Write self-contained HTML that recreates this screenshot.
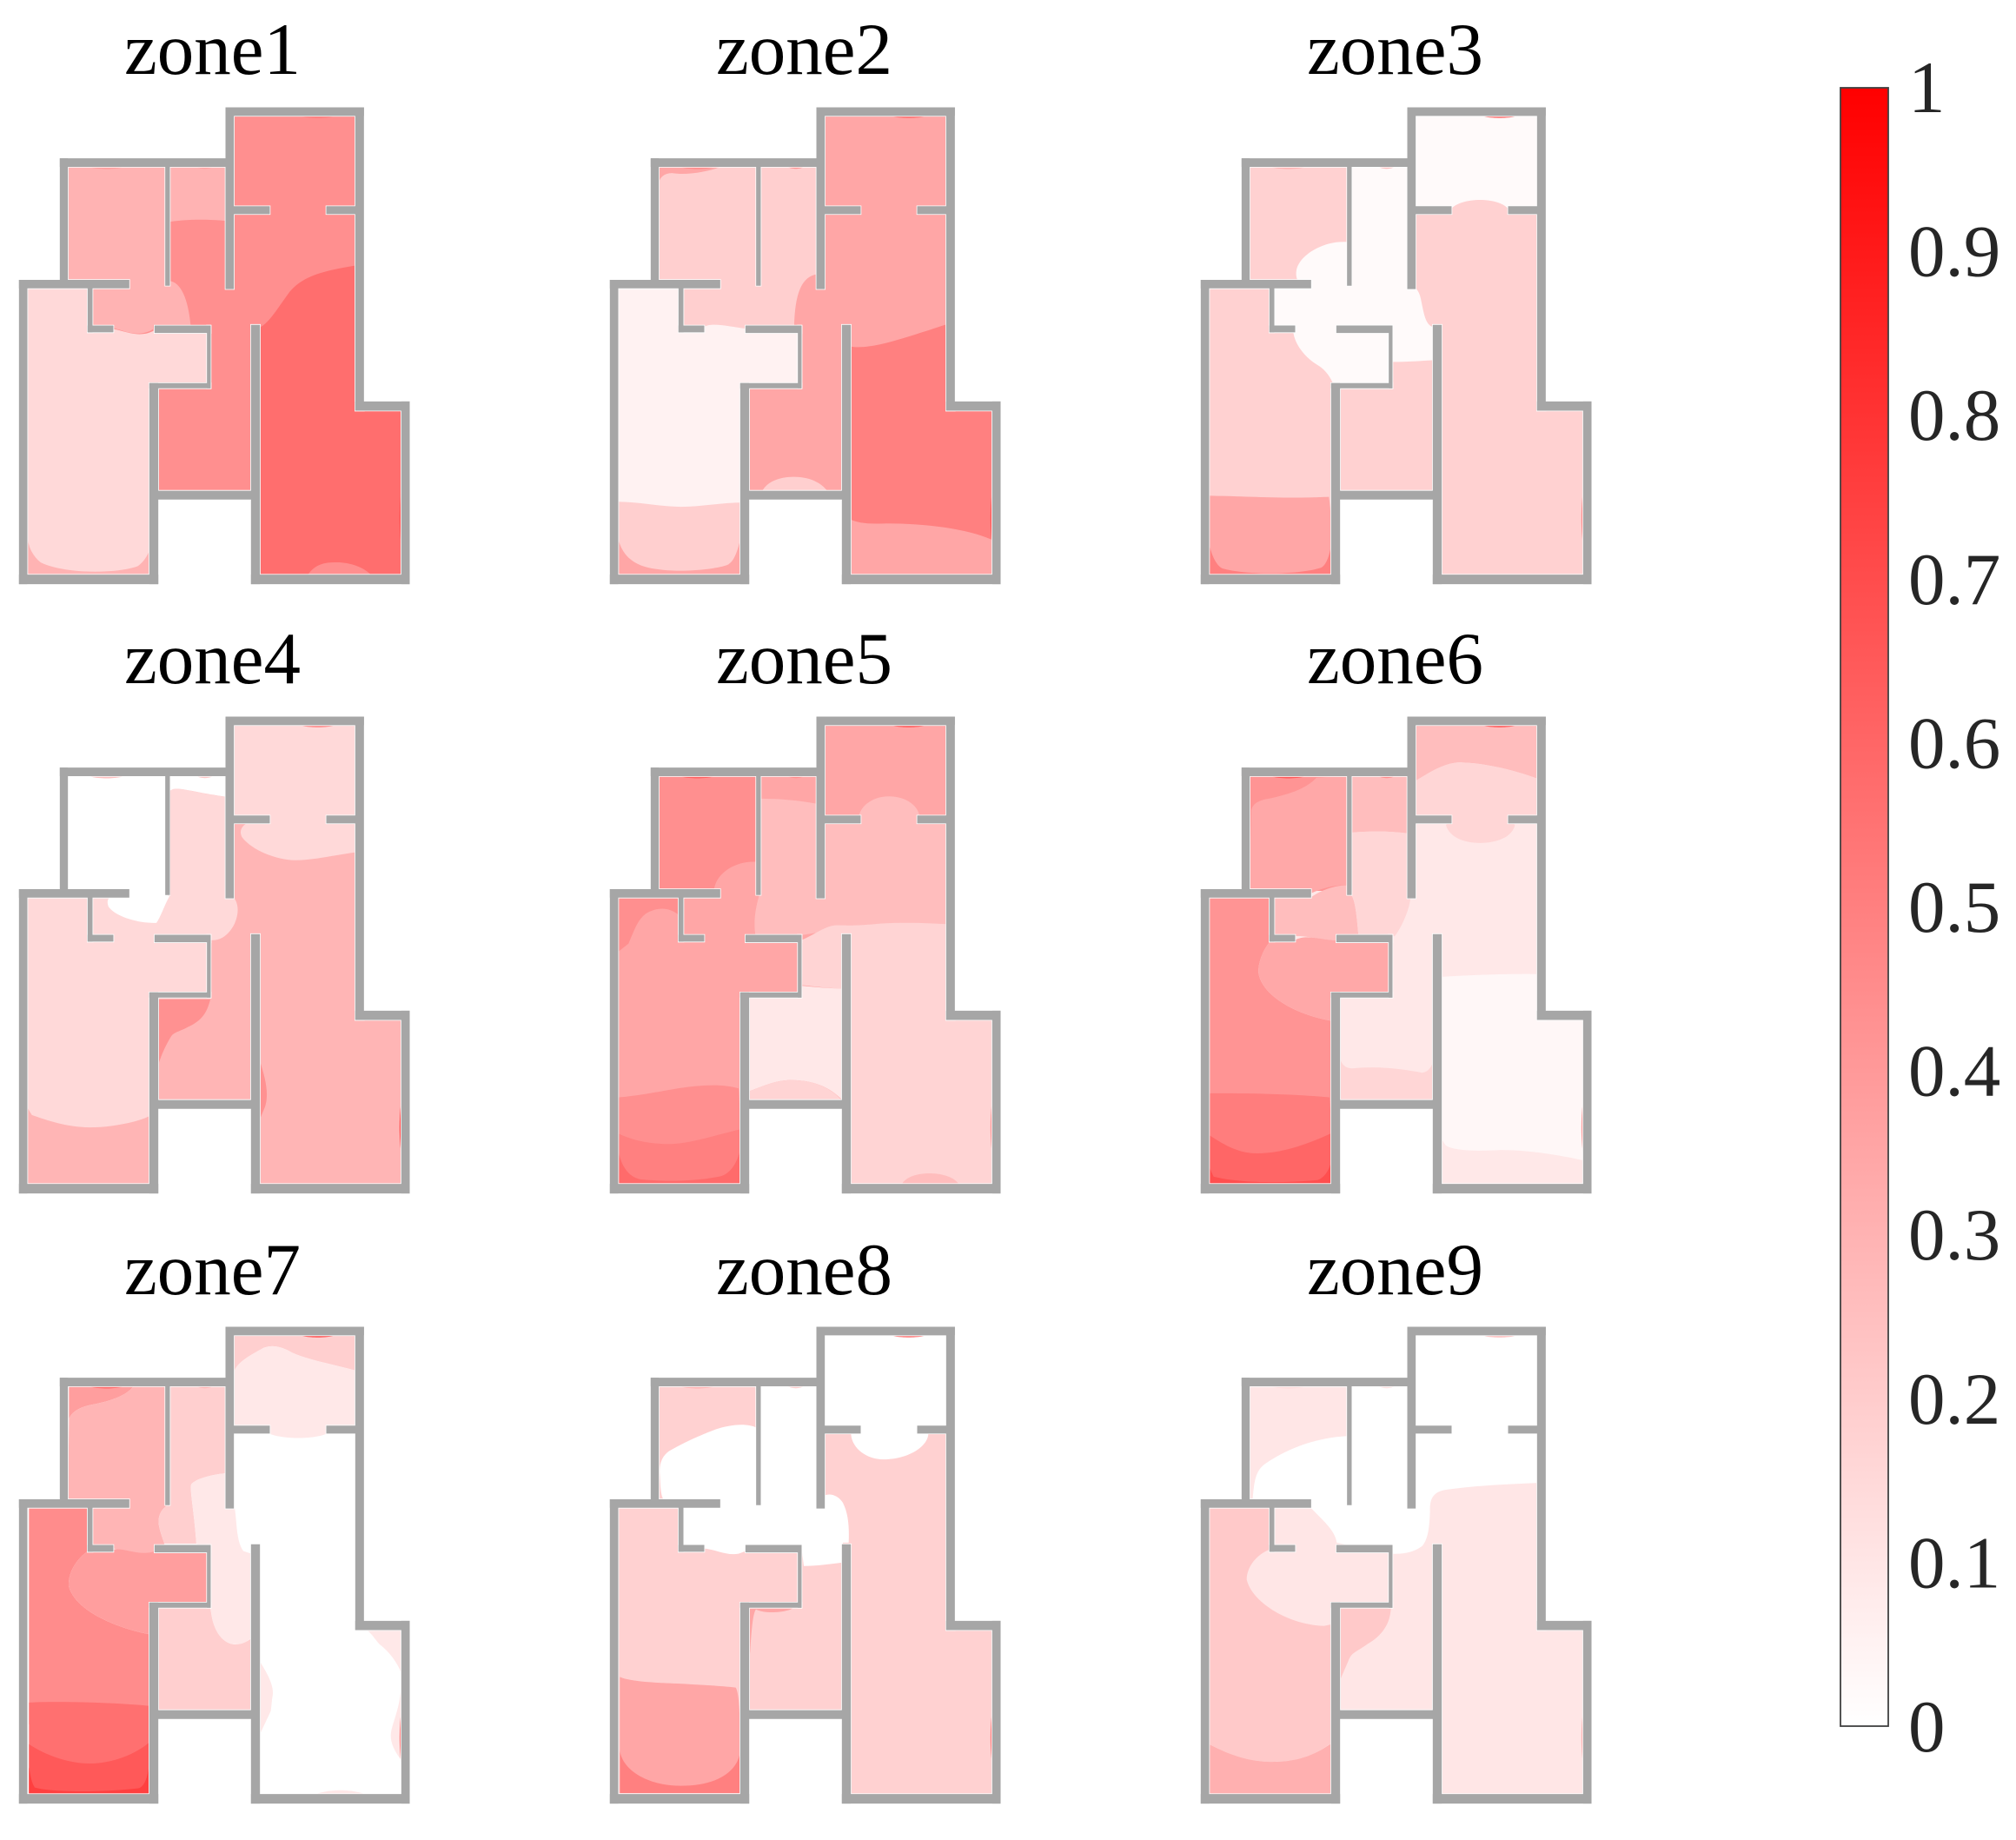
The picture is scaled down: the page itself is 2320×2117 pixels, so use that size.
<!DOCTYPE html>
<html lang="en">
<head>
<meta charset="utf-8">
<title>Zone contour maps</title>
<style>
html,body{margin:0;padding:0;background:#fff;}
body{width:2320px;height:2117px;overflow:hidden;}
svg{display:block;}
text{font-family:"Liberation Serif",serif;}
</style>
</head>
<body>
<svg id="chart" xmlns="http://www.w3.org/2000/svg" width="2320" height="2117" viewBox="0 0 2320 2117">
<defs>
<linearGradient id="bar-gradient" x1="0" y1="1" x2="0" y2="0">
<stop offset="0" stop-color="#ffffff"/>
<stop offset="1" stop-color="#ff0000"/>
</linearGradient>
</defs>
</svg>
<script>
// ---------- data ----------
const zoneNames = ['zone1','zone2','zone3','zone4','zone5','zone6','zone7','zone8','zone9'];
const colorbarTicks = [0,0.1,0.2,0.3,0.4,0.5,0.6,0.7,0.8,0.9,1];

// level of each contour band (0..1), painted in order
const zone1Levels = [0.44,0.30,0.30,0.15,0.57,0.44];
const zone2Levels = [0.35,0.19,0.19,0.05,0.19,0.50];
const zone3Levels = [0.18,0.50,0.35,0.02,0.02];
const zone4Levels = [0.29,0.15,0.15,0.15,0,0,0.43,0.43];
const zone5Levels = [0.35,0.44,0.26,0.17,0.09,0.17,0.26,0.44,0.44,0.58,0.50];
const zone6Levels = [0.09,0.26,0.16,0.42,0.34,0.26,0.26,0.16,0.42,0.34,0.51,0.60,0.69,0.03,0.16];
const zone7Levels = [0,0.19,0.09,0.38,0.29,0.19,0.19,0.09,0.45,0.38,0.56,0.65,0.75,0.09,0.09,0.09];
const zone8Levels = [0.18,0,0,0.50,0.35,0.35];
const zone9Levels = [0.10,0,0.21,0.31,0.21];

// supply-vent levels: top room, bedroom 1, bedroom 2, hall side, right side
const zone1Vents = [0.52,0.38,0.36,0.62,0.68];
const zone2Vents = [0.55,0.45,0.42,0.62,0.68];
const zone3Vents = [0.50,0.30,0.25,0.48,0.45];
const zone4Vents = [0.45,0.25,0.22,0.70,0.72];
const zone5Vents = [0.62,0.62,0.45,0.40,0.42];
const zone6Vents = [0.62,0.65,0.45,0.42,0.38];
const zone7Vents = [0.62,0.58,0.30,0.62,0.50];
const zone8Vents = [0.48,0.30,0.20,0.55,0.52];
const zone9Vents = [0.24,0.14,0.12,0.34,0.30];

// contour outlines in plan coordinates
const zone1Outlines = [
'M0,0H1500V1600H0Z',
'M225,420L790,420L790,568C700,562 630,565 585,570L585,722C625,725 650,770 658,835L530,835L530,845C480,870 430,850 390,843L300,843L300,730L225,730Z',
'M94,1300L530,1300L530,1490L94,1490Z',
'M94,738L310,738L310,845L390,845C430,850 480,870 530,850L530,845L726,845L726,998L530,998L530,1390C510,1430 495,1445 475,1455C400,1475 220,1475 140,1445C115,1430 100,1410 94,1380Z',
'M896,842C930,830 960,790 1000,750C1050,705 1130,695 1228,682L1420,682L1420,1500L896,1500Z',
'M1060,1480C1090,1445 1130,1445 1170,1445C1220,1447 1260,1460 1285,1480Z'
];
const zone2Outlines = [
'M0,0H1500V1600H0Z',
'M233,320C235,295 255,283 280,283C330,290 400,280 445,265L790,255L790,585C740,590 705,620 702,745L300,770L215,640Z',
'M94,1270L517,1270L517,1380C505,1420 495,1450 470,1460C400,1480 240,1485 170,1460C130,1445 105,1420 94,1380Z',
'M94,628L304,628L304,745L390,745C420,730 480,745 535,750L535,742L730,742L730,928L530,928L530,1272C450,1272 380,1285 310,1285C240,1285 170,1270 94,1270Z',
'M590,1240C610,1205 660,1195 700,1195C750,1195 795,1210 818,1240Z',
'M890,803C960,815 1060,785 1228,737L1420,737L1420,1390L1387,1385C1300,1350 1150,1335 1020,1335C960,1337 920,1335 890,1320Z'
];
const zone3Outlines = [
'M0,0H1500V1600H0Z',
'M94,1390L530,1395L530,1490L94,1490Z',
'M94,1252C200,1252 350,1262 508,1255C515,1300 517,1350 517,1395C510,1430 500,1460 480,1468C400,1490 220,1490 140,1470C115,1460 100,1420 94,1395Z',
'M800,105L1235,105L1235,390L1127,390C1090,355 970,355 930,390L800,390Z',
'M570,490C490,485 400,530 395,580C394,595 398,605 405,610L445,628L318,628L318,745L385,760C390,800 430,840 470,860C490,870 510,890 522,915L726,915L726,850C780,850 820,847 865,845L868,745C840,740 835,700 825,660C820,640 810,628 800,625L790,610L790,263L585,263L585,600L572,600Z'
];
const zone4Outlines = [
'M0,0H1500V1600H0Z',
'M800,110L1235,110L1235,495C1150,505 1080,520 1020,520C950,518 870,490 835,450C825,432 835,418 850,410L800,405Z',
'M590,310C610,295 680,320 785,330L785,628L805,630C825,650 825,680 810,710C790,745 760,762 730,760L726,928L530,928L530,1280C505,1300 400,1322 310,1322C230,1322 160,1300 110,1285L94,1262L94,632L318,632L318,745L590,745Z',
'M310,625L600,625L600,760L310,760Z',
'M585,260L790,260L790,330C680,320 610,295 590,310L585,310Z',
'M233,266L572,266L572,625L585,628C565,660 555,690 540,708C480,710 400,690 375,660C368,645 372,635 380,632L445,630L233,630Z',
'M540,938L726,938C715,975 700,1000 650,1020C620,1035 600,1035 590,1050C565,1085 545,1130 540,1160Z',
'M896,1120C915,1170 930,1220 915,1260L896,1300Z'
];
const zone5Outlines = [
'M0,0H1500V1600H0Z',
'M233,266L572,266L572,525C500,520 430,560 425,610L233,612Z',
'M585,335C650,335 720,340 790,352L790,410L925,410C915,370 960,328 1030,328C1090,328 1145,360 1135,410L1235,410L1235,715L900,720L726,745L568,745C560,700 570,660 580,628Z',
'M726,760C770,745 810,715 850,715C880,715 900,718 1000,710C1100,705 1180,710 1235,712L1420,712L1420,1500L890,1500L868,1240L868,905C820,905 770,898 730,895Z',
'M540,935L725,928L730,897C770,900 820,905 868,905L868,1240C840,1215 790,1180 690,1180C630,1180 580,1205 540,1215Z',
'M540,1215C580,1205 630,1180 690,1180C790,1180 840,1215 868,1242L540,1242Z',
'M1075,1490C1095,1465 1140,1460 1170,1460C1220,1460 1260,1475 1272,1495Z',
'M94,632L304,632L304,685C270,660 230,660 190,680C160,700 150,730 130,770L94,795Z',
'M94,1232C150,1228 200,1220 300,1205C380,1195 450,1190 510,1205L530,1495L94,1495Z',
'M94,1380L530,1370L530,1495L94,1495Z',
'M94,1340C140,1360 200,1372 270,1372C340,1372 430,1345 515,1328L517,1385C505,1430 480,1465 440,1470C350,1485 250,1485 170,1478C130,1470 105,1440 94,1390Z'
];
const zone6Outlines = [
'M0,0H1500V1600H0Z',
'M806,112L1228,112L1228,275C1150,250 1050,228 960,226C900,228 850,260 806,282Z',
'M806,282C850,260 900,228 960,226C1050,228 1150,250 1228,275L1228,385L1128,385L1150,415C1140,450 1090,468 1030,468C970,468 925,450 912,415L930,385L806,385Z',
'M233,266L572,266L572,612L233,612Z',
'M240,370C245,350 265,340 300,335C370,322 430,305 465,272L572,266L572,595C530,593 480,605 445,620L233,612Z',
'M318,632L445,632C470,615 520,595 572,595L585,625C600,640 605,700 610,745L535,760C480,760 430,745 385,748L304,745Z',
'M585,266L785,266L785,440C720,432 650,432 585,437Z',
'M585,437C650,432 720,432 790,440L790,632C785,670 760,720 735,748L610,745C605,700 600,640 585,625Z',
'M94,632L304,632L304,765C280,790 262,830 265,860C280,930 400,985 517,1002L530,1280L94,1280Z',
'M304,765L390,760C430,740 480,760 530,760L535,765L726,765L726,928L530,928L517,1002C400,985 280,930 265,860C262,830 280,790 304,765Z',
'M94,1220C200,1218 400,1222 510,1232L530,1495L94,1495Z',
'M94,1345C140,1370 190,1400 260,1400C350,1400 440,1370 515,1340L530,1495L94,1495Z',
'M94,1440L94,1495L517,1495L517,1420C510,1450 495,1470 470,1480C350,1490 200,1490 110,1470Z',
'M896,870C1000,865 1120,860 1228,862L1420,862L1420,1420L1380,1420C1300,1405 1200,1390 1100,1390C1000,1395 930,1390 910,1375L896,1355Z',
'M540,1100C550,1135 565,1145 590,1145C650,1140 720,1140 830,1158C855,1155 868,1135 875,1100L875,1245L540,1245Z'
];
const zone7Outlines = [
'M0,0H1500V1600H0Z',
'M806,120L1228,120L1228,228C1150,210 1060,195 1010,175C970,155 940,150 910,160C870,180 820,200 806,235Z',
'M806,235C820,200 870,180 910,160C940,150 970,155 1010,175C1060,195 1150,210 1228,228L1228,395L1128,395L1128,418C1080,435 980,435 930,418L930,395L806,395Z',
'M238,270L465,270C440,305 380,320 310,332C270,340 245,355 238,375Z',
'M238,375C245,355 270,340 310,332C380,320 440,305 465,270L572,270L572,628L585,630C560,640 545,660 548,690C552,710 560,730 568,748L535,775C480,785 440,770 390,762L304,752L304,635L235,620Z',
'M585,270L790,270L790,535C740,540 680,550 660,570C655,590 670,650 678,748L568,748C560,730 552,710 548,690C545,660 560,640 585,630Z',
'M540,940L726,940L730,960C740,1020 780,1055 820,1050C840,1048 860,1040 875,1025L875,1248L540,1248Z',
'M660,570C680,550 740,540 790,535L790,635L810,640C818,680 815,740 840,770L868,778L868,1030C850,1045 830,1052 810,1050C770,1050 735,1010 728,950L726,768L678,748C670,650 655,590 660,570Z',
'M100,640L304,640L304,770C270,790 235,830 237,875C260,950 400,1000 515,1020L530,1290L100,1290Z',
'M304,770L390,765C430,760 480,785 530,772L726,772L726,925L530,925L515,1020C400,1000 260,950 237,875C235,830 270,790 304,770Z',
'M100,1225C200,1220 400,1225 515,1235L530,1500L100,1500Z',
'M100,1350C160,1385 240,1408 310,1408C380,1408 460,1385 515,1345L530,1500L100,1500Z',
'M100,1420L100,1500L517,1500L517,1400C510,1450 500,1475 480,1482C360,1495 180,1495 120,1480C108,1465 105,1440 100,1420Z',
'M896,1100C925,1140 950,1180 940,1210L935,1250L900,1315L896,1315Z',
'M1270,1010L1387,1005L1387,1400C1360,1370 1345,1340 1350,1315C1360,1270 1385,1240 1387,1140C1370,1100 1340,1070 1310,1050C1295,1035 1285,1020 1270,1010Z',
'M1095,1498C1150,1485 1200,1485 1255,1498Z'
];
const zone8Outlines = [
'M0,0H1500V1600H0Z',
'M806,115L1235,115L1235,395L1128,395L1165,420C1160,460 1090,495 1010,495C950,495 900,460 898,418L930,405L806,395Z',
'M572,400C540,385 480,390 430,405C370,425 320,445 270,470C245,485 235,510 238,540C240,570 240,600 250,615L445,636L318,636L318,752L390,762C430,765 470,785 510,778L535,770L726,752L735,815C780,815 820,810 865,805L870,745L890,745C892,700 890,660 870,625C855,605 830,595 806,603L790,395L790,270L585,270L585,400Z',
'M100,1370L100,1497L517,1497L517,1370Z',
'M100,1148C130,1160 200,1165 300,1168C380,1172 450,1175 500,1180C515,1200 515,1300 515,1375C505,1430 440,1475 310,1475C200,1475 110,1430 100,1370Z',
'M540,940L700,940C680,955 600,960 570,945C560,955 555,1000 550,1070L540,1150Z'
];
const zone9Outlines = [
'M0,0H1500V1600H0Z',
'M780,115L1235,115L1235,565C1100,570 1000,575 920,585C870,590 855,610 857,650C855,700 850,735 830,755C800,775 760,780 726,778L535,745C530,710 490,680 445,640L445,630L245,612C250,560 255,530 285,510C350,470 450,430 572,425L572,270L780,270Z',
'M94,640L304,640L304,765C260,780 225,815 224,855C240,920 360,990 490,995L517,990L530,1340L510,1350C440,1395 370,1403 310,1403C230,1403 160,1380 94,1350Z',
'M94,1350C160,1380 230,1403 310,1403C370,1403 440,1395 515,1348L530,1500L94,1500Z',
'M540,940L722,940C720,990 690,1025 640,1050C600,1075 585,1075 575,1100C560,1130 550,1150 540,1170Z'
];

const allLevels = [zone1Levels,zone2Levels,zone3Levels,zone4Levels,zone5Levels,zone6Levels,zone7Levels,zone8Levels,zone9Levels];
const allVents = [zone1Vents,zone2Vents,zone3Vents,zone4Vents,zone5Vents,zone6Vents,zone7Vents,zone8Vents,zone9Vents];
const allOutlines = [zone1Outlines,zone2Outlines,zone3Outlines,zone4Outlines,zone5Outlines,zone6Outlines,zone7Outlines,zone8Outlines,zone9Outlines];

// ---------- fixed floor-plan geometry ----------
const NS = 'http://www.w3.org/2000/svg';
const svg = document.getElementById('chart');
const planOutline = 'M780,87L1255,87L1255,970L1413,970L1413,1516L868,1516L868,1262L545,1262L545,1516L67,1516L67,605L208,605L208,240L780,240Z';
const wallRects = [
[780,87,475,23],[780,87,26,543],[1228,87,27,908],[1228,970,185,25],[1387,970,26,546],
[868,1490,545,26],[868,740,28,776],[530,1238,350,24],[517,915,28,601],[67,1490,478,26],
[67,605,26,911],[67,605,378,23],[208,240,25,380],[208,240,582,23],[572,263,13,357],
[806,384,124,21],[1128,384,100,21],[304,628,14,132],[304,742,86,18],[535,742,191,20],
[716,742,10,186],[517,915,209,13]
];
const ventShapes = [
'M1025,106L1168,106C1150,122 1045,122 1025,106Z',
'M295,259L440,259C420,275 315,275 295,259Z',
'M668,259L745,259C725,274 690,274 668,259Z',
'M875,1000C863,1060 863,1130 875,1180Z',
'M1387,1230C1376,1290 1378,1360 1387,1410Z'
];
const colX = [0,680,1360];
const rowTop = [124,825,1527];
const rowShift = ['translate(0,0)','translate(0,-3)','translate(0,-11)'];
const zone1Shift = 'translate(0,87) scale(1,1.1685) translate(0,-277)';
const planScaleX = 1/3;
const planScaleY = 0.3832;
const titleBaseline = [85,786,1489];
const titleLeft = [143,824,1504];

// ---------- scales ----------
const barTop = 101, barBottom = 1986, barLeft = 2118, barWidth = 55;
function levelColor(v){
  const c = Math.round(255*(1-Math.max(0,Math.min(1,v))));
  return 'rgb(255,'+c+','+c+')';
}
function barY(v){ return (barBottom+3) - v*(barBottom-barTop+1); }

function make(tag, attrs, parent){
  const el = document.createElementNS(NS, tag);
  for (const k in attrs) el.setAttribute(k, attrs[k]);
  parent.appendChild(el);
  return el;
}

// ---------- zones ----------
zoneNames.forEach(function(name, i){
  const c = i % 3, r = Math.floor(i / 3);
  const title = make('text', {x:titleLeft[c], y:titleBaseline[r], 'font-size':85, fill:'#000'}, svg);
  
  
  title.textContent = name;

  const clipId = 'clip-' + name;
  const clip = make('clipPath', {id:clipId}, svg);
  make('path', {d:planOutline}, clip);

  const plan = make('g', {transform:'translate('+colX[c]+','+(rowTop[r]-87*planScaleY)+') scale('+planScaleX+','+planScaleY+')'}, svg);
  
  

  const clipped = make('g', {'clip-path':'url(#'+clipId+')'}, plan);
  const bands = make('g', {transform: i === 0 ? zone1Shift : rowShift[r]}, clipped);
  
  
  allLevels[i].forEach(function(level, j){
    const band = make('path', {d:allOutlines[i][j], fill:levelColor(level)}, bands);
    
    
  });
  allVents[i].forEach(function(level, j){
    const vent = make('path', {d:ventShapes[j], fill:levelColor(level)}, clipped);
    
    
  });

  const halo = make('g', {fill:'#fff', stroke:'#fff', 'stroke-width':2.6}, plan);
  
  
  const walls = make('g', {fill:'#a6a6a6', stroke:'#a6a6a6', 'stroke-width':1}, plan);
  
  
  wallRects.forEach(function(w){
    const h = make('rect', {x:w[0], y:w[1], width:w[2], height:w[3], 'vector-effect':'non-scaling-stroke'}, halo);
    
    
    const s = make('rect', {x:w[0], y:w[1], width:w[2], height:w[3], 'vector-effect':'non-scaling-stroke'}, walls);
    
    
  });
});

// ---------- colorbar ----------
const bar = make('rect', {x:barLeft, y:barTop, width:barWidth, height:barBottom-barTop, fill:'url(#bar-gradient)', stroke:'#404040', 'stroke-width':1.8}, svg);


colorbarTicks.forEach(function(t){
  const label = make('text', {x:2196, y:barY(t)+26, 'font-size':85, fill:'#262626'}, svg);
  
  
  label.textContent = String(t);
});
</script>
</body>
</html>
